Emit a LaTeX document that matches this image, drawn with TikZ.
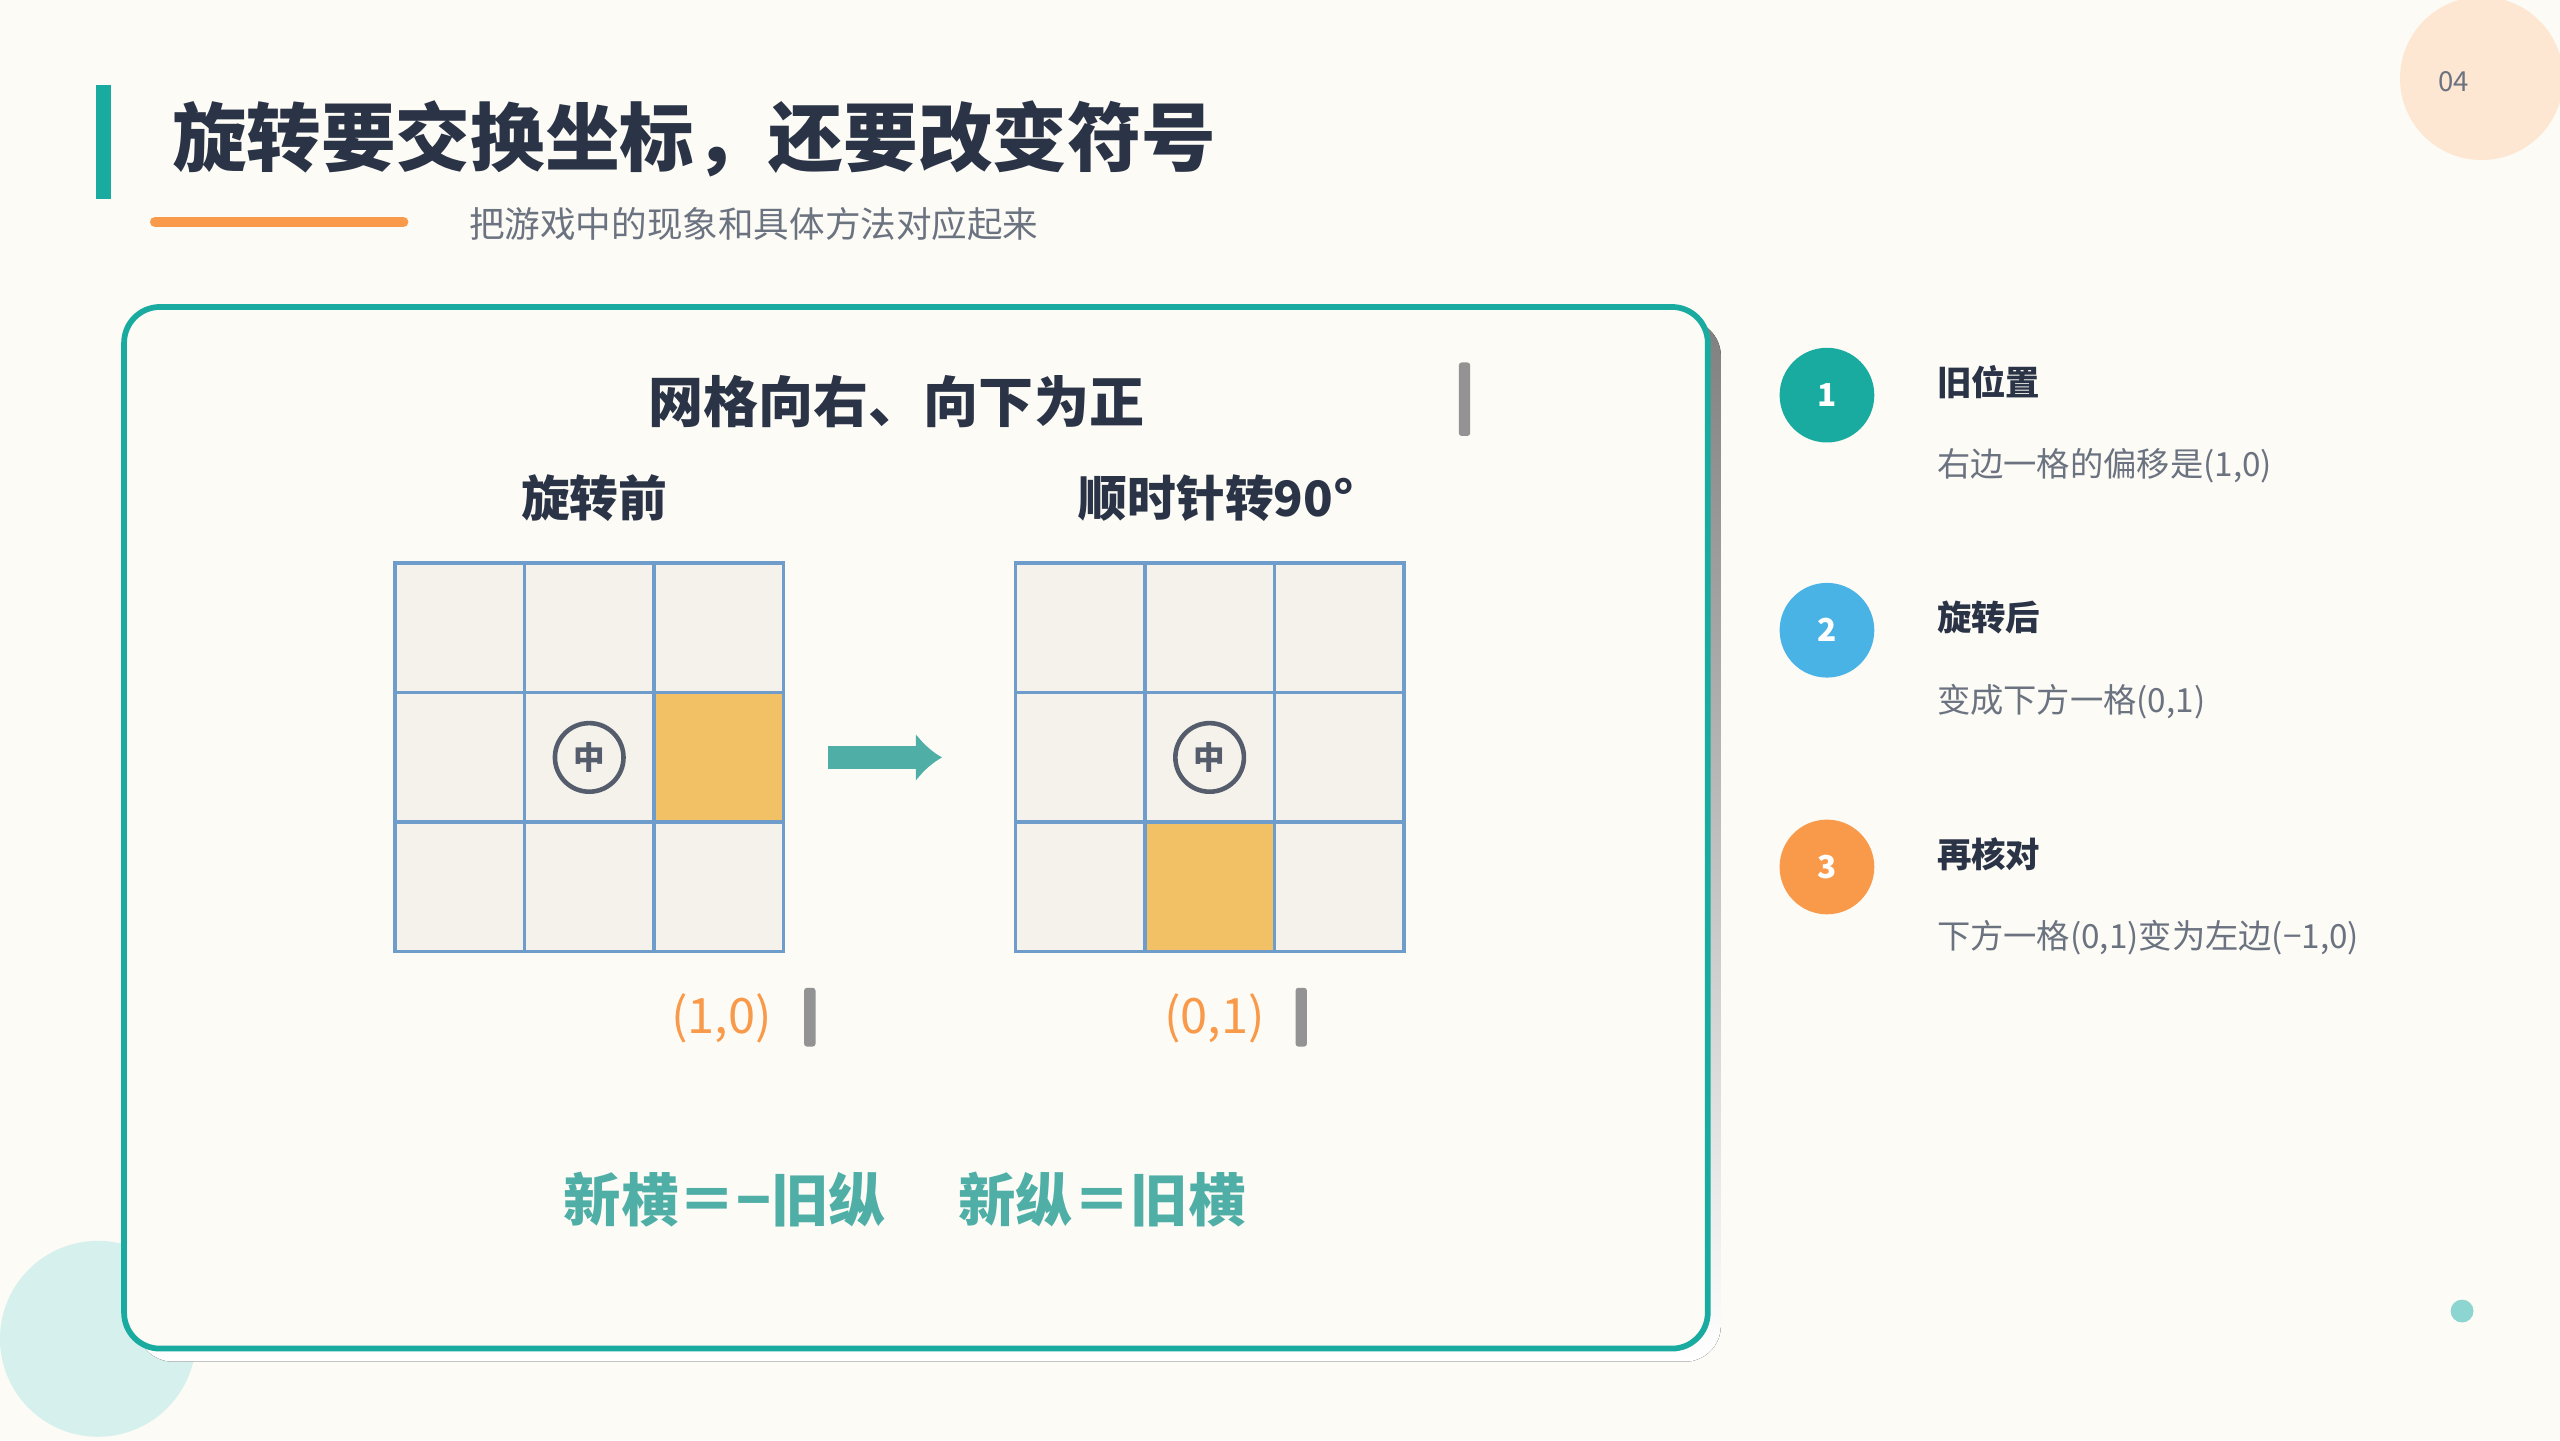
\documentclass[tikz,border=0pt]{standalone}
\usepackage{fontspec}
\setmainfont{Noto Sans CJK SC}
\usetikzlibrary{positioning,calc,arrows.meta}
\definecolor{bgc}{HTML}{FCFBF5}
\definecolor{teal}{HTML}{1AABA0}
\definecolor{ink}{HTML}{2B3447}
\definecolor{muted}{HTML}{6B7280}
\definecolor{gridline}{HTML}{6E9CCB}
\definecolor{cellc}{HTML}{F5F2EB}
\definecolor{hot}{HTML}{F2C166}
\definecolor{orng}{HTML}{F99A4A}
\definecolor{skyb}{HTML}{4AB3E6}
\definecolor{mint}{HTML}{4FAFA6}
\definecolor{shade}{HTML}{D8DBE4}
\tikzset{>=latex}
\tikzset{
  cell/.style={draw=gridline,line width=0.6pt,fill=cellc,minimum size=0.793cm,inner sep=0pt},
  center mark/.style={circle,draw=ink!80,line width=0.8pt,minimum size=0.42cm,inner sep=0pt,font=\fontsize{5.5}{6}\selectfont\bfseries,text=ink!80},
  step dot/.style={circle,minimum size=0.58cm,inner sep=0pt,text=white,font=\fontsize{5.5}{6}\selectfont\bfseries},
  step head/.style={anchor=west,text=ink,font=\fontsize{6}{7}\selectfont\bfseries},
  step text/.style={anchor=west,text=muted,font=\fontsize{5.8}{7}\selectfont},
  coord label/.style={text=orng,font=\fontsize{8.5}{10}\selectfont},
  tick bar/.style={fill=gray!85,rounded corners=0.5pt},
}
\begin{document}
\begin{tikzpicture}[x=1cm,y=-1cm]
  \useasboundingbox[fill=bgc] (0,0) rectangle (15.68,8.82);
  % decorations
  \fill[orng!25] (15.2,0.48) circle (0.5);
  \node[text=muted,font=\fontsize{4.8}{5}\selectfont] (page) at (15.03,0.5) {04};
  \fill[teal!18] (0.6,8.2) circle (0.6);
  \fill[teal!50] (15.08,8.03) circle (0.07);
  % header
  \fill[teal] (0.59,0.52) rectangle (0.68,1.22);
  \node[anchor=west,text=ink,font=\fontsize{13}{15}\selectfont\bfseries] (title) at (0.93,0.85) {旋转要交换坐标，还要改变符号};
  \draw[orng,line width=1.8pt,line cap=round] (0.95,1.36) -- (2.47,1.36);
  \node[anchor=west,text=muted,font=\fontsize{6.2}{7}\selectfont] (sub) at (2.75,1.37) {把游戏中的现象和具体方法对应起来};
  % card
  \fill[shade,rounded corners=0.22cm] (0.84,1.96) rectangle (10.54,8.34);
  \draw[teal,line width=1pt,fill=bgc,rounded corners=0.22cm] (0.76,1.88) rectangle (10.46,8.26);
  \node[text=ink,font=\fontsize{9.6}{11}\selectfont\bfseries] (rule) at (5.49,2.46) {网格向右、向下为正};
  \fill[tick bar] (8.935,2.22) rectangle (9.005,2.67);
  \node[text=ink,font=\fontsize{8.5}{10}\selectfont\bfseries] (before) at (3.64,3.05) {旋转前};
  \node[text=ink,font=\fontsize{8.5}{10}\selectfont\bfseries] (after) at (7.45,3.05) {顺时针转90°};
  % grids
  \foreach \r in {0,1,2} {
    \foreach \c in {0,1,2} {
      \node[cell] (a\r\c) at (2.816+\c*0.793,3.846+\r*0.793) {};
      \node[cell] (b\r\c) at (6.616+\c*0.793,3.846+\r*0.793) {};
    }
  }
  \node[cell,fill=hot] at (a12) {};
  \node[cell,fill=hot] at (b21) {};
  \node[center mark] (ca) at (a11) {中};
  \node[center mark] (cb) at (b11) {中};
  % arrow
  \draw[-{Latex[length=0.16cm,width=0.3cm]},mint,line width=4pt] ($(a12.east)+(0.26,0)$) -- ($(b10.west)+(-0.44,0)$);
  % offsets
  \node[coord label] (oa) at (4.42,6.24) {(1,0)};
  \fill[tick bar] (4.925,6.05) rectangle (4.995,6.41);
  \node[coord label] (ob) at (7.44,6.24) {(0,1)};
  \fill[tick bar] (7.935,6.05) rectangle (8.005,6.41);
  % formulas
  \node[text=mint,font=\fontsize{10}{12}\selectfont\bfseries] (fx) at (4.44,7.35) {新横＝−旧纵};
  \node[text=mint,font=\fontsize{10}{12}\selectfont\bfseries] (fy) at (6.75,7.35) {新纵＝旧横};
  % steps
  \node[step dot,fill=teal] (s1) at (11.19,2.42) {1};
  \node[step head] (h1) at (11.74,2.34) {旧位置};
  \node[step text] (t1) at (11.74,2.85) {右边一格的偏移是(1,0)};
  \node[step dot,fill=skyb] (s2) at (11.19,3.86) {2};
  \node[step head] (h2) at (11.74,3.78) {旋转后};
  \node[step text] (t2) at (11.74,4.30) {变成下方一格(0,1)};
  \node[step dot,fill=orng] (s3) at (11.19,5.31) {3};
  \node[step head] (h3) at (11.74,5.23) {再核对};
  \node[step text] (t3) at (11.74,5.74) {下方一格(0,1)变为左边(−1,0)};
\end{tikzpicture}
\end{document}
